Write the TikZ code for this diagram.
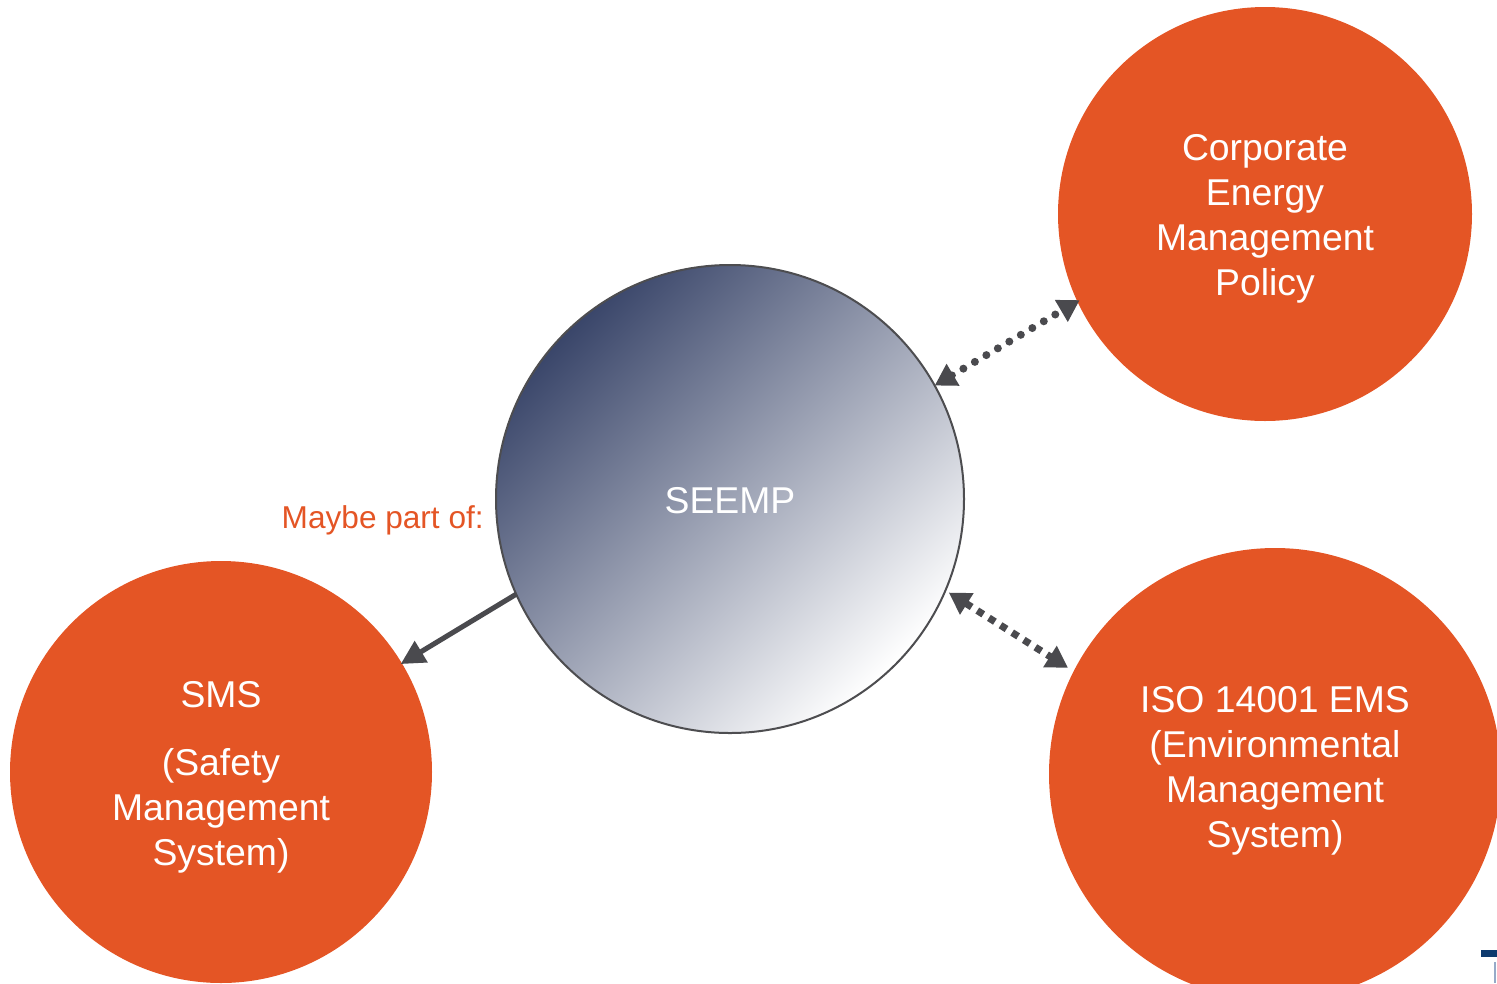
\documentclass[tikz,border=0pt]{standalone}
\usepackage{fontspec}
\setmainfont{Liberation Sans}
\usetikzlibrary{arrows.meta}
\definecolor{brandorange}{RGB}{228,85,37}
\definecolor{connector}{RGB}{74,74,78}
\definecolor{rimgray}{RGB}{77,77,80}
\definecolor{navydeep}{RGB}{58,70,106}
\definecolor{midgray}{RGB}{192,194,202}
\definecolor{paleend}{RGB}{255,255,255}
\definecolor{logoblue}{RGB}{13,58,110}
\definecolor{logoline}{RGB}{150,170,200}
\begin{document}
\begin{tikzpicture}[x=0.75pt,y=-0.75pt,
  bodytext/.style={font=\fontsize{28}{33.75}\selectfont, align=center, text=white, inner sep=0pt},
  orangeball/.style={circle, fill=brandorange, inner sep=0pt, outer sep=0pt},
  hubball/.style={circle, draw=rimgray, line width=1.5pt, inner sep=0pt, outer sep=0pt,
    top color=navydeep, middle color=midgray, bottom color=paleend, shading angle=45},
  solidlink/.style={draw=connector, line width=3.8pt, -{Triangle[length=18pt,width=18pt]}},
  dotlink/.style={draw=connector, line width=6pt, line cap=round, dash pattern=on 0pt off 10pt,
    {Triangle[length=16pt,width=18pt]}-{Triangle[length=16pt,width=18pt]}},
  squarelink/.style={draw=connector, line width=5.3pt, dash pattern=on 5.3pt off 5pt,
    {Triangle[length=16pt,width=18pt]}-{Triangle[length=16pt,width=18pt]}},
]
\useasboundingbox (0,0) rectangle (1497,983);
\clip (0,0) rectangle (1497,983);

% the four circles
\node[orangeball, minimum size=310.5pt] (corp) at (1265,214) {};
\node[orangeball, minimum size=339pt] (iso) at (1275,774) {};
\node[orangeball, minimum size=316.5pt] (sms) at (221,772) {};
\node[hubball, minimum size=351pt] (seemp) at (730,499) {};

% their texts
\node[bodytext] (corptext) at (1265,219) {Corporate\\Energy\\Management\\Policy};
\node[bodytext] (isotext) at (1275,771) {ISO 14001 EMS\\(Environmental\\Management\\System)};
\node[bodytext] (smstext) at (221,777) {SMS\\[17pt](Safety\\Management\\System)};
\node[bodytext] (seemptext) at (730,501) {SEEMP};

% label beside the hub
\node[anchor=east, text=brandorange, font=\fontsize{23.7}{28}\selectfont, inner sep=0pt] (maybe) at (484,520) {Maybe part of:};

% connectors
\draw[solidlink, shorten >=-1pt] (seemp.204.6) -- (sms.31);
\draw[dotlink, shorten >=-2pt] (seemp.29.4) -- (corp.205.3);
\draw[squarelink, shorten <=3pt, shorten >=5pt] (seemp.-23.5) -- (iso.153);

% logo fragment at the page corner
\fill[logoblue] (1481,950) rectangle (1497,957);
\fill[logoline] (1494,962) rectangle (1496,983);
\end{tikzpicture}
\end{document}
